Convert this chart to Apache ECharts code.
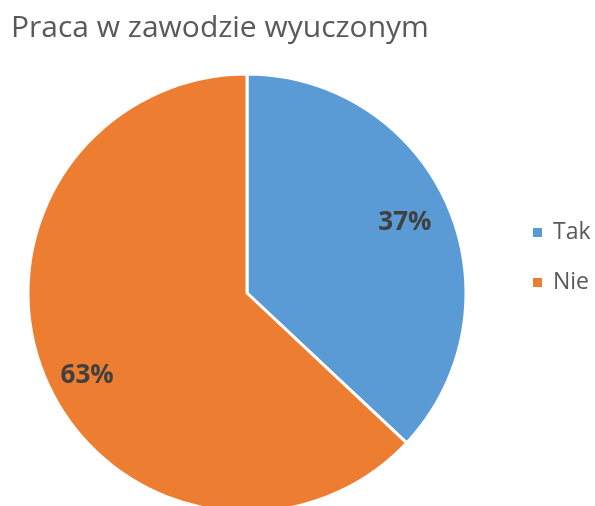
<!DOCTYPE html>
<html>
<head>
<meta charset="utf-8">
<script src="https://cdn.jsdelivr.net/npm/echarts@6/dist/echarts.min.js"></script>
<style>
  html, body { margin: 0; padding: 0; background: #fff; }
  #chart { width: 595px; height: 506px; }
</style>
</head>
<body>
<div id="chart"></div>
<script>
  // dane wykresu
  const categories = ['Tak', 'Nie'];
  const values = [37, 63];
  const colors = ['#5B9BD5', '#ED7D31'];

  const pieData = categories.map((name, i) => ({ name: name, value: values[i] }));

  // drobne przesunięcia etykiet, żeby wyglądały jak w Excelu
  const labelShift = [[-5, 0], [3, 12]];
  const labelData = pieData.map((d, i) => ({
    name: d.name,
    value: d.value,
    label: { offset: labelShift[i] }
  }));

  let chart = echarts.init(document.getElementById('chart'));
  let option = {
    animation: false,
    color: colors,
    title: {
      text: 'Praca w zawodzie wyuczonym',
      left: 6,
      top: 8,
      textStyle: {
        fontFamily: 'Open Sans',
        fontSize: 30,
        fontWeight: 'normal',
        color: '#595959'
      }
    },
    legend: {
      orient: 'vertical',
      left: 526,
      top: 216,
      itemWidth: 11,
      itemHeight: 11,
      itemGap: 27,
      icon: 'rect',
      data: categories,
      textStyle: {
        fontFamily: 'Open Sans',
        fontSize: 23,
        color: '#595959',
        padding: [0, 0, 0, 5]
      }
    },
    series: [
      {
        type: 'pie',
        center: [247, 293],
        radius: [0, 219],
        startAngle: 90,
        clockwise: true,
        data: pieData,
        itemStyle: { borderColor: '#fff', borderWidth: 3 },
        label: { show: false },
        labelLine: { show: false },
        emphasis: { disabled: true }
      },
      {
        // tylko etykiety procentowe
        type: 'pie',
        center: [247, 293],
        radius: [130, 219],
        startAngle: 90,
        clockwise: true,
        silent: true,
        data: labelData,
        itemStyle: { color: 'transparent' },
        label: {
          show: true,
          position: 'inside',
          formatter: '{c}%',
          fontFamily: 'Open Sans',
          fontSize: 26,
          fontWeight: 'bold',
          color: '#404040'
        },
        labelLine: { show: false },
        emphasis: { disabled: true }
      }
    ]
  };
  chart.setOption(option);
</script>
</body>
</html>
